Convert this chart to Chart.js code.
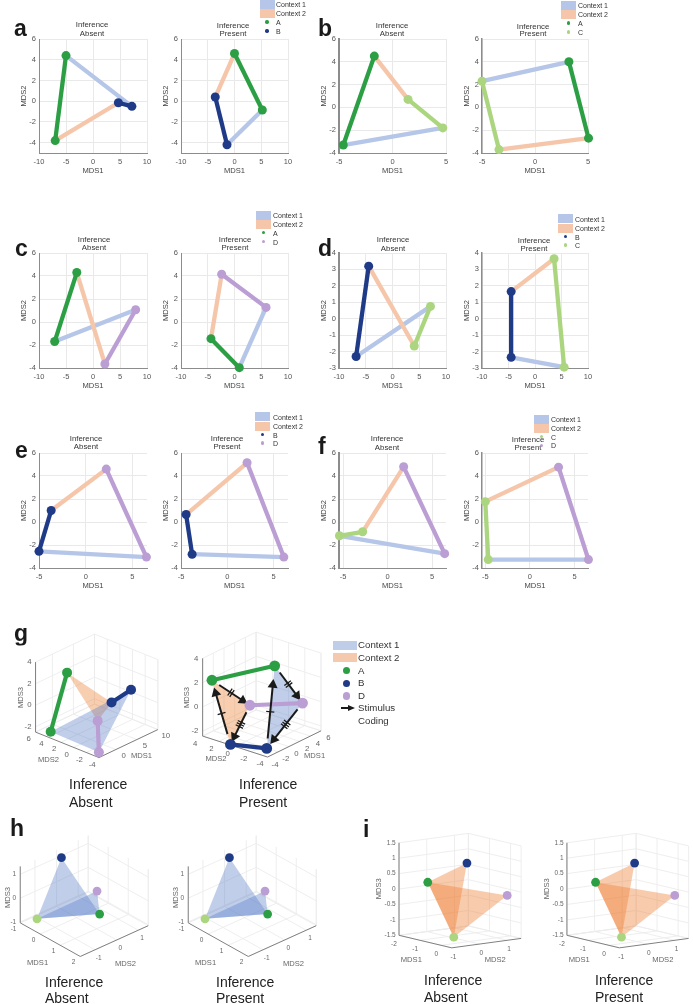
<!DOCTYPE html>
<html>
<head>
<meta charset="utf-8">
<title>MDS panels</title>
<script src="https://cdn.jsdelivr.net/npm/chart.js@4/dist/chart.umd.min.js"></script>
<style>
html,body{margin:0;background:#fff}
#page{position:relative;width:693px;height:1004px;overflow:hidden;font-family:"Liberation Sans",Arial,sans-serif}
canvas{position:absolute}
.t{position:absolute;white-space:nowrap;line-height:1;will-change:transform}
.b{position:absolute}
</style>
</head>
<body>
<div id="page"></div>
<script>
// every 2d list: stim1 context1, stim1 context2, stim2 context1, stim2 context2
var aAbsentX = [-5, -7, 7.2, 4.7];
var aAbsentY = [4.4, -3.8, -0.5, -0.15];
var aPresentX = [5.2, 0, -1.4, -3.6];
var aPresentY = [-0.85, 4.6, -4.2, 0.4];
var bAbsentX = [-4.6, -1.7, 4.7, 1.45];
var bAbsentY = [-3.3, 4.5, -1.8, 0.7];
var bPresentX = [3.2, 5.05, -5, -3.4];
var bPresentY = [4, -2.7, 2.3, -3.7];
var cAbsentX = [-7.1, -3, 7.9, 2.2];
var cAbsentY = [-1.7, 4.3, 1.07, -3.65];
var cPresentX = [0.9, -4.4, 5.9, -2.4];
var cPresentY = [-3.97, -1.45, 1.27, 4.15];
var dAbsentX = [-6.8, -4.45, 7.1, 4.07];
var dAbsentY = [-2.3, 3.2, 0.75, -1.66];
var dPresentX = [-4.5, -4.5, 5.5, 3.6];
var dPresentY = [-2.35, 1.65, -2.95, 3.65];
var eAbsentX = [-5, -3.7, 6.5, 2.2];
var eAbsentY = [-2.55, 1, -3.05, 4.6];
var ePresentX = [-3.8, -4.45, 6.1, 2.13];
var ePresentY = [-2.8, 0.65, -3.05, 5.15];
var fAbsentX = [-5.4, -2.8, 6.4, 1.8];
var fAbsentY = [-1.2, -0.85, -2.75, 4.8];
var fPresentX = [-4.67, -5, 6.55, 3.2];
var fPresentY = [-3.27, 1.77, -3.27, 4.77];

// 3d g: A ctx2, A ctx1, B ctx2, B ctx1, D ctx2, D ctx1
var gAbsentX = [-1.96, -3.72, 2.08, 4.74, -1.49, -3.15];
var gAbsentY = [2.38, 3.8, -1.95, -3.26, -2.13, -3.43];
var gAbsentZ = [3.5, -2, 1, 2, 0, -2.3];
var gPresentX = [-3.32, 2.43, -3.85, -2.64, -0.1, 4.3];
var gPresentY = [3.3, -0.64, 0.67, -3, 0.74, -2.84];
var gPresentZ = [2.2, 3, -2.4, -2.2, 0, 0];
// 3d h and i: A, B, C, D
var hX = [0.62, -0.9, -0.66, 0.37];
var hY = [0.49, 0.13, -1.22, 0.6];
var hZ = [-0.8, 1, -0.9, 0];
var iX = [-1.19, -0.99, -0.43, 0.09];
var iY = [-0.58, 0.68, -0.22, 1.31];
var iZ = [0.3, 0.8, -1.4, -0.15];

var xTicks10 = [-10, -5, 0, 5, 10];
var xTicks5 = [-5, 0, 5];
var yTicks6 = [-4, -2, 0, 2, 4, 6];
var yTicks4 = [-3, -2, -1, 0, 1, 2, 3, 4];
var gAbsentTicksX = [0, 5, 10];
var gAbsentTicksY = [-4, -2, 0, 2, 4, 6];
var gAbsentTicksZ = [-2, 0, 2, 4];
var gPresentTicksX = [-4, -2, 0, 2, 4, 6];
var gPresentTicksY = [-4, -2, 0, 2, 4];
var gPresentTicksZ = [-2, 0, 2, 4];
var hTicksX = [-1, 0, 1, 2];
var hTicksY = [-1, 0, 1];
var hTicksZ = [-1, 0, 1];
var iTicksX = [-2, -1, 0];
var iTicksY = [-1, 0, 1];
var iTicksZ = [-1.5, -1, -0.5, 0, 0.5, 1, 1.5];

var green = '#2c9f45', navy = '#1f3a87', lime = '#abd67f', purple = '#bb9ed3';
var ctx1Col = '#b5c6e8', ctx2Col = '#f5c6a9';
var page = document.getElementById('page');
var fontName = '"Liberation Sans", Arial, sans-serif';

function addText(str, x, y, size, align, color, bold) {
	var d = document.createElement('div');
	d.className = 't';
	d.textContent = str;
	d.style.left = x + 'px';
	d.style.top = y + 'px';
	d.style.fontSize = size + 'px';
	d.style.color = color || '#333';
	if (bold) d.style.fontWeight = 'bold';
	d.style.transform = align == 'center' ? 'translate(-50%,-50%)' : 'translateY(-50%)';
	page.appendChild(d);
}

function addBlock(x, y, w, h, color, round) {
	var d = document.createElement('div');
	d.className = 'b';
	d.style.cssText = 'left:' + x + 'px;top:' + y + 'px;width:' + w + 'px;height:' + h + 'px;background:' + color + ';' + (round ? 'border-radius:50%;' : '');
	page.appendChild(d);
}

function addCanvas(x, y, w, h) {
	var c = document.createElement('canvas');
	c.width = w;
	c.height = h;
	c.style.left = x + 'px';
	c.style.top = y + 'px';
	c.style.width = w + 'px';
	c.style.height = h + 'px';
	page.appendChild(c);
	return c;
}

function zip(xs, ys, idx) {
	return idx.map(function (i) { return {x: xs[i], y: ys[i]}; });
}

function panel2d(left, right, top, bottom, xs, ys, col1, col2, xr, yr, xticks, yticks, axisW) {
	var L = 20, B = 22, padT = 8, padR = 10;
	var c = addCanvas(left - L, top - padT, right - left + L + padR, bottom - top + B + padT);
	function axis(min, max, ticks, title, isY) {
		return {
			type: 'linear', min: min, max: max,
			afterBuildTicks: function (s) { s.ticks = ticks.map(function (v) { return {value: v}; }); },
			afterFit: function (s) { if (isY) s.width = L; else s.height = B; },
			grid: {color: '#e9e9e9', lineWidth: 1, drawTicks: false},
			border: {display: true, color: '#8c8c8c', width: isY ? axisW : 1},
			ticks: {font: {size: 7.5, family: fontName}, color: '#555', padding: isY ? 3 : 4, autoSkip: false, maxRotation: 0},
			title: {display: true, text: title, font: {size: 7.6, family: fontName}, color: '#444', padding: 0}
		};
	}
	function line(idx, color, r, order) {
		return {data: zip(xs, ys, idx), borderColor: color, backgroundColor: color, borderWidth: 4.3, pointRadius: r, pointBorderWidth: 0,
			pointBackgroundColor: color, showLine: true, tension: 0, clip: false, order: order};
	}
	new Chart(c.getContext('2d'), {
		type: 'scatter',
		data: {datasets: [
			line([0, 1], col1, 4.5, 1),
			line([2, 3], col2, 4.5, 2),
			line([1, 3], ctx2Col, 0, 3),
			line([0, 2], ctx1Col, 0, 4)
		]},
		options: {
			responsive: false, animation: false, events: [],
			layout: {padding: {top: padT, right: padR, left: 0, bottom: 0}},
			plugins: {legend: {display: false}, tooltip: {enabled: false}},
			scales: {x: axis(xr[0], xr[1], xticks, 'MDS1', false), y: axis(yr[0], yr[1], yticks, 'MDS2', true)}
		}
	});
}

function legendSmall(x, textX, rows, name1, col1, name2, col2) {
	addBlock(x, rows[0] - 4.5, 15, 9, ctx1Col);
	addBlock(x, rows[1] - 4.5, 15, 9, ctx2Col);
	addText('Context 1', textX, rows[0], 7);
	addText('Context 2', textX, rows[1], 7);
	addBlock(x + 5.7, rows[2] - 1.7, 3.4, 3.4, col1, true);
	addBlock(x + 5.7, rows[3] - 1.7, 3.4, 3.4, col2, true);
	addText(name1, textX, rows[2], 7);
	addText(name2, textX, rows[3], 7);
}

function titles(x, y1, y2, word) {
	addText('Inference', x, y1, 7.8, 'center');
	addText(word, x, y2, 7.8, 'center');
}

// labels on the 3d panels go through the chart scales
var label3d = {
	id: 'label3d',
	afterDatasetsDraw: function (chart) {
		var ctx = chart.ctx, list = chart.options.plugins.label3d.items;
		ctx.save();
		ctx.textAlign = 'center';
		ctx.textBaseline = 'middle';
		list.forEach(function (l) {
			var px = chart.scales.x.getPixelForValue(l.x) + l.dx;
			var py = chart.scales.y.getPixelForValue(l.y) + l.dy;
			ctx.save();
			ctx.translate(px, py);
			if (l.rot) ctx.rotate(-Math.PI / 2);
			ctx.font = l.size + 'px ' + fontName;
			ctx.fillStyle = '#666';
			ctx.textAlign = l.align || 'center';
			ctx.fillText(l.text, 0, 0);
			ctx.restore();
		});
		ctx.restore();
	}
};

function panel3d(o) {
	var c = addCanvas(o.cx, o.cy, o.cw, o.ch);
	function project(x, y, z) {
		var a = (x - o.xr[0]) / (o.xr[1] - o.xr[0]);
		var b = (y - o.yr[0]) / (o.yr[1] - o.yr[0]);
		var d = (z - o.zr[0]) / (o.zr[1] - o.zr[0]);
		return {x: o.ox - o.cx + a * o.ex[0] + b * o.ey[0], y: o.oy - o.cy + a * o.ex[1] + b * o.ey[1] - d * o.h};
	}
	var gap = {x: NaN, y: NaN};
	var grid = [], axes = [];
	function seg(list, p, q) { list.push(project(p[0], p[1], p[2]), project(q[0], q[1], q[2]), gap); }
	var x0 = o.xr[0], x1 = o.xr[1], y0 = o.yr[0], y1 = o.yr[1], z0 = o.zr[0], z1 = o.zr[1];
	o.xt.forEach(function (v) {
		seg(grid, [v, y0, z0], [v, y1, z0]);
		seg(grid, [v, o.yBack, z0], [v, o.yBack, z1]);
	});
	o.yt.forEach(function (v) {
		seg(grid, [x0, v, z0], [x1, v, z0]);
		seg(grid, [o.xBack, v, z0], [o.xBack, v, z1]);
	});
	o.zt.forEach(function (v) {
		seg(grid, [o.xBack, y0, v], [o.xBack, y1, v]);
		seg(grid, [x0, o.yBack, v], [x1, o.yBack, v]);
	});
	seg(grid, [o.xBack, o.yBack, z0], [o.xBack, o.yBack, z1]);
	seg(grid, [o.xBack, o.yFront, z0], [o.xBack, o.yFront, z1]);
	seg(grid, [o.xFront, o.yBack, z0], [o.xFront, o.yBack, z1]);
	seg(grid, [o.xBack, o.yBack, z0], [o.xBack, o.yFront, z0]);
	seg(grid, [o.xBack, o.yBack, z0], [o.xFront, o.yBack, z0]);
	seg(axes, [x0, o.yFront, z0], [x1, o.yFront, z0]);
	seg(axes, [o.xFront, y0, z0], [o.xFront, y1, z0]);
	seg(axes, [o.zAt[0], o.zAt[1], z0], [o.zAt[0], o.zAt[1], z1]);

	var P = o.px.map(function (v, i) { return project(v, o.py[i], o.pz[i]); });
	var ds = [];
	ds.push({data: grid, borderColor: '#ececec', borderWidth: 0.9, pointRadius: 0, showLine: true, order: 50, clip: false});
	ds.push({data: axes, borderColor: '#808080', borderWidth: 1, pointRadius: 0, showLine: true, order: 49, clip: false});
	o.tris.forEach(function (t, i) {
		var tri = [P[t[0]], P[t[1]], P[t[2]], P[t[0]]];
		ds.push({data: tri, fill: 'shape', backgroundColor: o.triCols[i], borderWidth: 0, borderColor: 'rgba(0,0,0,0)', pointRadius: 0, showLine: true, order: 40 - i, clip: false});
	});
	(o.lines || []).forEach(function (l, i) {
		ds.push({data: [P[l[0]], P[l[1]]], borderColor: l[2], borderWidth: 4.2, pointRadius: 0, showLine: true, order: 30 - i, clip: false});
	});
	(o.arrows || []).forEach(function (a) {
		var p = P[a[0]], q = P[a[1]];
		var s = {x: p.x + (q.x - p.x) * a[2], y: p.y + (q.y - p.y) * a[2]};
		var e = {x: p.x + (q.x - p.x) * a[3], y: p.y + (q.y - p.y) * a[3]};
		var dx = e.x - s.x, dy = e.y - s.y, len = Math.sqrt(dx * dx + dy * dy);
		var ux = dx / len, uy = dy / len;
		var ang = Math.atan2(dx, -dy) * 180 / Math.PI;
		ds.push({data: [s, e], borderColor: '#1a1a1a', backgroundColor: '#1a1a1a', borderWidth: 2, pointStyle: 'triangle',
			pointRadius: [0, 5.8], pointRotation: ang, pointBorderWidth: 0, pointBackgroundColor: '#1a1a1a', showLine: true, order: 5, clip: false});
		var marks = [];
		for (var k = 0; k < a[4]; k++) {
			var off = (k - (a[4] - 1) / 2) * 2.6;
			var mx = (s.x + e.x) / 2 + ux * off, my = (s.y + e.y) / 2 + uy * off;
			marks.push({x: mx - uy * 4.4, y: my + ux * 4.4}, {x: mx + uy * 4.4, y: my - ux * 4.4}, gap);
		}
		ds.push({data: marks, borderColor: '#1a1a1a', borderWidth: 1.3, pointRadius: 0, showLine: true, order: 4, clip: false});
	});
	ds.push({data: P, showLine: false, pointRadius: o.markR, pointBorderWidth: 0, pointBackgroundColor: o.cols, order: 1, clip: false});

	var items = [];
	o.xt.forEach(function (v) { var p = project(v, o.yFront, z0); items.push({x: p.x, y: p.y, dx: o.xOff[0], dy: o.xOff[1], text: String(v), size: o.tickSize}); });
	o.yt.forEach(function (v) { var p = project(o.xFront, v, z0); items.push({x: p.x, y: p.y, dx: o.yOff[0], dy: o.yOff[1], text: String(v), size: o.tickSize}); });
	o.zt.forEach(function (v) { var p = project(o.zAt[0], o.zAt[1], v); items.push({x: p.x, y: p.y, dx: o.zOff, dy: 0, text: String(v), size: o.tickSize, align: 'right'}); });
	items.push({x: o.t1[0] - o.cx, y: o.t1[1] - o.cy, dx: 0, dy: 0, text: 'MDS1', size: 7.6});
	items.push({x: o.t2[0] - o.cx, y: o.t2[1] - o.cy, dx: 0, dy: 0, text: 'MDS2', size: 7.6});
	items.push({x: o.t3[0] - o.cx, y: o.t3[1] - o.cy, dx: 0, dy: 0, text: 'MDS3', size: 7.6, rot: true});

	new Chart(c.getContext('2d'), {
		type: 'scatter',
		data: {datasets: ds},
		plugins: [label3d],
		options: {
			responsive: false, animation: false, events: [],
			plugins: {legend: {display: false}, tooltip: {enabled: false}, label3d: {items: items}},
			scales: {
				x: {type: 'linear', display: false, min: 0, max: o.cw},
				y: {type: 'linear', display: false, min: 0, max: o.ch, reverse: true}
			}
		}
	});
}

// panels a to f
var colA = [39, 147], colB = [181, 288], colC = [339, 446], colD = [482, 588];
panel2d(colA[0], colA[1], 39, 153, aAbsentX, aAbsentY, green, navy, [-10, 10], [-5, 6], xTicks10, yTicks6, 1);
panel2d(colB[0], colB[1], 39, 153, aPresentX, aPresentY, green, navy, [-10, 10], [-5, 6], xTicks10, yTicks6, 1);
panel2d(colC[0], colC[1], 39, 153, bAbsentX, bAbsentY, green, lime, [-5, 5], [-4, 6], xTicks5, yTicks6, 2);
panel2d(colD[0], colD[1], 39, 153, bPresentX, bPresentY, green, lime, [-5, 5], [-4, 6], xTicks5, yTicks6, 1.5);
panel2d(colA[0], colA[1], 253, 368, cAbsentX, cAbsentY, green, purple, [-10, 10], [-4, 6], xTicks10, yTicks6, 1);
panel2d(colB[0], colB[1], 253, 368, cPresentX, cPresentY, green, purple, [-10, 10], [-4, 6], xTicks10, yTicks6, 1);
panel2d(colC[0], colC[1], 253, 368, dAbsentX, dAbsentY, navy, lime, [-10, 10], [-3, 4], xTicks10, yTicks4, 2);
panel2d(colD[0], colD[1], 253, 368, dPresentX, dPresentY, navy, lime, [-10, 10], [-3, 4], xTicks10, yTicks4, 1.5);
panel2d(colA[0], colA[1], 453, 568, eAbsentX, eAbsentY, navy, purple, [-5, 6.56], [-4, 6], xTicks5, yTicks6, 1);
panel2d(colB[0], colB[1], 453, 568, ePresentX, ePresentY, navy, purple, [-5, 6.55], [-4, 6], xTicks5, yTicks6, 1);
panel2d(colC[0], colC[1], 453, 568, fAbsentX, fAbsentY, lime, purple, [-5.45, 6.55], [-4, 6], xTicks5, yTicks6, 2);
panel2d(colD[0], colD[1], 453, 568, fPresentX, fPresentY, lime, purple, [-5.37, 6.5], [-4, 6], xTicks5, yTicks6, 1.5);

titles(92, 25, 34, 'Absent');
titles(233, 26, 34, 'Present');
titles(392, 26, 34, 'Absent');
titles(533, 27, 34, 'Present');
titles(94, 240, 248, 'Absent');
titles(235, 240, 248, 'Present');
titles(393, 240, 249, 'Absent');
titles(534, 241, 249, 'Present');
titles(86, 439, 447, 'Absent');
titles(227, 439, 447, 'Present');
titles(387, 439, 448, 'Absent');
titles(528, 440, 448, 'Present');

legendSmall(259.5, 276, [4, 13, 22, 31], 'A', green, 'B', navy);
legendSmall(561, 578, [5, 14, 23, 32], 'A', green, 'C', lime);
legendSmall(256, 273, [215, 224, 232.5, 241.5], 'A', green, 'D', purple);
legendSmall(558, 575, [218.7, 228, 236.5, 245], 'B', navy, 'C', lime);
legendSmall(255, 272.7, [416.7, 426, 434.7, 443], 'B', navy, 'D', purple);
legendSmall(534, 551, [419.3, 428, 436.7, 445.3], 'C', lime, 'D', purple);

// panel g
var blueFill = 'rgba(90,125,200,0.38)', orangeFill = 'rgba(237,125,49,0.38)', orangeFillI = 'rgba(237,125,49,0.4)';
var gCols = [green, green, navy, navy, purple, purple];
var gLines = [[4, 5, purple], [2, 3, navy], [0, 1, green]];
var gTris = [[0, 2, 4], [1, 3, 5]];
panel3d({
	cx: 0, cy: 625, cw: 185, ch: 150,
	ox: 99.3, oy: 761.7, ex: [62.3, -30], ey: [-67, -27.3], h: 75, markR: 5,
	xr: [-4, 10], yr: [-4, 6], zr: [-2.5, 4],
	xBack: 10, xFront: -4, yBack: 6, yFront: -4, zAt: [-4, 6],
	xt: gAbsentTicksX, yt: gAbsentTicksY, zt: gAbsentTicksZ,
	xOff: [8, 6.5], yOff: [-6.8, 7], zOff: -4, tickSize: 7.8,
	t1: [144.3, 760], t2: [46, 764.3], t3: [16.7, 697.3],
	px: gAbsentX, py: gAbsentY, pz: gAbsentZ, cols: gCols,
	tris: gTris, triCols: [orangeFill, blueFill], lines: gLines
});
panel3d({
	cx: 178, cy: 622, cw: 160, ch: 155,
	ox: 268.3, oy: 761.7, ex: [57.67, -28.33], ey: [-70, -22.67], h: 84, markR: 5.4,
	xr: [-4, 6], yr: [-4, 4], zr: [-2.4, 4],
	xBack: 6, xFront: -4, yBack: 4, yFront: -4, zAt: [-4, 4],
	xt: gPresentTicksX, yt: gPresentTicksY, zt: gPresentTicksZ,
	xOff: [7.5, 7.5], yOff: [-7.5, 7.3], zOff: -4.3, tickSize: 7.8,
	t1: [319, 761], t2: [212.7, 764], t3: [181.7, 697.3],
	px: gPresentX, py: gPresentY, pz: gPresentZ, cols: gCols,
	tris: gTris, triCols: [orangeFill, blueFill], lines: gLines,
	arrows: [[0, 4, 0.19, 0.81, 2], [2, 0, 0.16, 0.8, 1], [4, 2, 0.18, 0.8, 3], [1, 5, 0.18, 0.8, 2], [3, 1, 0.12, 0.77, 1], [5, 3, 0.14, 0.8, 3]]
});
addText('Inference', 69, 784, 14, 'left', '#222');
addText('Absent', 69, 801.7, 14, 'left', '#222');
addText('Inference', 239, 784, 14, 'left', '#222');
addText('Present', 239, 801.7, 14, 'left', '#222');

// legend of g
addBlock(333.3, 640.5, 23.4, 9, '#c0cde9');
addBlock(333.3, 653, 23.4, 9, '#f5c9ae');
addBlock(343, 667, 7.4, 7.4, green, true);
addBlock(343, 679.6, 7.4, 7.4, navy, true);
addBlock(343, 692.3, 7.4, 7.4, purple, true);
addText('Context 1', 358.3, 645, 9.7);
addText('Context 2', 358.3, 657.7, 9.7);
addText('A', 358.3, 670.7, 9.7);
addText('B', 358.3, 683.3, 9.7);
addText('D', 358.3, 696, 9.7);
addText('Stimulus', 358, 708, 9.7);
addText('Coding', 358, 720.7, 9.7);
addBlock(341, 707.4, 8, 1.6, '#1a1a1a');
var head = document.createElement('div');
head.className = 'b';
head.style.cssText = 'left:348px;top:704.5px;width:0;height:0;border-left:7px solid #1a1a1a;border-top:3.7px solid transparent;border-bottom:3.7px solid transparent;';
page.appendChild(head);

// panels h and i
var hCols = [green, navy, lime, purple];
[0, 168].forEach(function (shift, n) {
	panel3d({
		cx: shift, cy: 825, cw: 170, ch: 150,
		ox: 16.7 + shift, oy: 924.3, ex: [63.3, 35.7], ey: [71.7, -32.7], h: 60, markR: 4.4,
		xr: [-1, 2], yr: [-1.68, 1.46], zr: [-1.04, 1.33],
		xBack: -1, xFront: 2, yBack: 1.46, yFront: -1.68, zAt: [-1, -1.68],
		xt: hTicksX, yt: hTicksY, zt: hTicksZ,
		xOff: [-6.7, 6], yOff: [3.7, 8], zOff: -4, tickSize: 6.5,
		t1: [35 + shift, 967], t2: [127.7 + shift, 967.7], t3: [3.6 + shift, 897.3],
		px: hX, py: hY, pz: hZ, cols: hCols,
		tris: [[2, 1, 0], [2, 3, 0]], triCols: [blueFill, blueFill]
	});
	addText('Inference', 45 + shift * 1.016, 982.3, 14, 'left', '#222');
	addText(n ? 'Present' : 'Absent', 45 + shift * 1.016, 998, 14, 'left', '#222');
	panel3d({
		cx: 370 + shift, cy: 822, cw: shift ? 155 : 165, ch: 150,
		ox: 396 + shift, oy: 937.7, ex: [55.7, 13.3], ey: [73.3, -10], h: 98.3, markR: 4.4,
		xr: [-2, 0.5], yr: [-1, 1.5], zr: [-1.5, 1.5],
		xBack: -2, xFront: 0.5, yBack: 1.5, yFront: -1, zAt: [-2, -1],
		xt: iTicksX, yt: iTicksY, zt: iTicksZ,
		xOff: [-5, 8.5], yOff: [1.7, 9], zOff: -3.3, tickSize: 6.5,
		t1: [409 + shift, 963.3], t2: [497.7 + shift, 964.3], t3: [375 + shift, 888.3],
		px: iX, py: iY, pz: iZ, cols: hCols,
		tris: [[0, 1, 2], [0, 3, 2]], triCols: [orangeFillI, orangeFillI]
	});
	addText('Inference', 424 + shift * 1.016, 980, 14, 'left', '#222');
	addText(n ? 'Present' : 'Absent', 424 + shift * 1.016, 996.7, 14, 'left', '#222');
});

// panel letters
var letters = [['a', 14, 28], ['b', 318, 28], ['c', 15, 248], ['d', 318, 248], ['e', 15, 450], ['f', 318, 446], ['g', 14, 633], ['h', 10, 828], ['i', 362.5, 829]];
letters.forEach(function (l) { addText(l[0], l[1], l[2], 23, 'left', '#1a1a1a', true); });
</script>
</body>
</html>
